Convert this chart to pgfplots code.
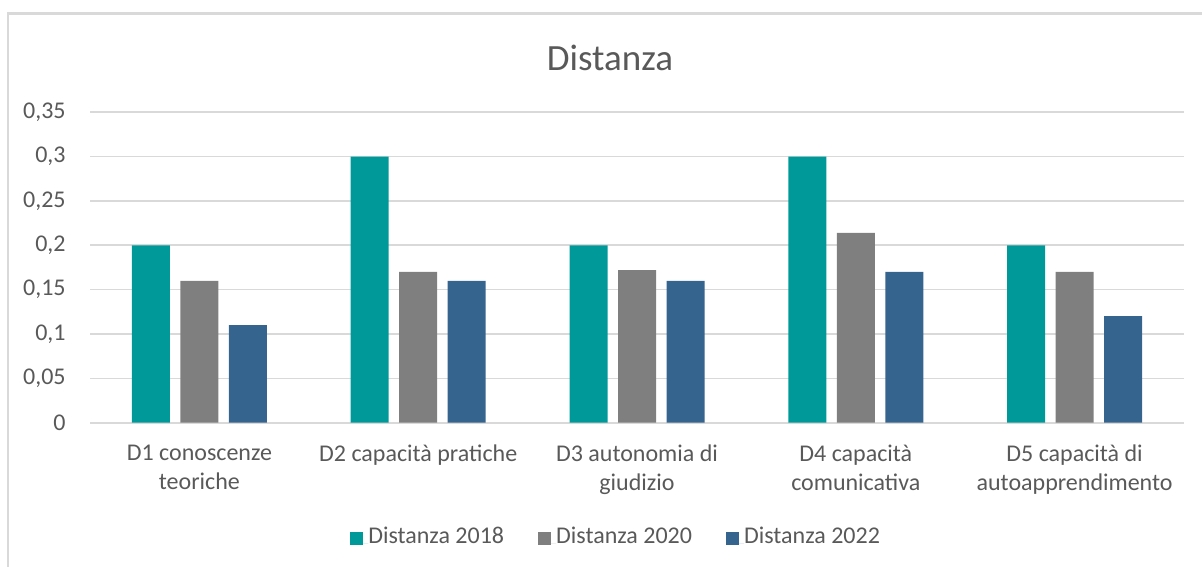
\documentclass[border=0pt]{standalone}
\usepackage{pgfplots}
\pgfplotsset{compat=1.18}
\usepackage{fontspec}
\setmainfont{Carlito}
\definecolor{cteal}{HTML}{009999}
\definecolor{cgray}{HTML}{7F7F7F}
\definecolor{cblue}{HTML}{35648E}
\definecolor{txt}{HTML}{595959}
\definecolor{gridc}{HTML}{D9D9D9}
\begin{document}
\begin{tikzpicture}
\path[use as bounding box] (0,0) rectangle (601bp,283.5bp);
\draw[gridc, line width=1.2bp] (4bp,0) -- (4bp,276.8bp) -- (601bp,276.8bp);
\node[text=txt, font=\fontsize{18.5bp}{22bp}\selectfont] at (305bp,254.5bp) {Distanza};
\begin{axis}[
  at={(45bp,72.15bp)}, anchor=south west,
  scale only axis, width=547bp, height=155.25bp,
  xmin=-0.5, xmax=4.5, ymin=0, ymax=0.35,
  axis line style={draw=none},
  xmajorgrids=false, ymajorgrids=true,
  y grid style={draw=gridc, line width=0.8bp},
  major tick length=0pt,
  xtick={0,1,2,3,4},
  xticklabels={{D1 conoscenze\\teoriche},{D2 capacità pratiche},{D3 autonomia di\\giudizio},{D4 capacità\\comunicativa},{D5 capacità di\\autoapprendimento}},
  ytick={0,0.05,0.1,0.15,0.2,0.25,0.3,0.35},
  yticklabels={0,{0,05},{0,1},{0,15},{0,2},{0,25},{0,3},{0,35}},
  ticklabel style={text=txt, font=\fontsize{12bp}{14.5bp}\selectfont},
  yticklabel style={anchor=east, inner sep=0pt, xshift=-12bp},
  xticklabel style={align=center, anchor=north, inner sep=0pt, yshift=-11bp},
  ybar, bar width=19bp,
  legend columns=3,
  legend style={at={(0.48,-0.368)}, anchor=center, draw=none, fill=none,
    font=\fontsize{12bp}{14.5bp}\selectfont, text=txt,
    nodes={inner sep=0pt, anchor=base west},
    /tikz/every even column/.append style={column sep=17bp}},
  legend image code/.code={\fill[#1] (0bp,-0.5bp) rectangle (6.5bp,6bp); \path (0,0) -- (9bp,0);},
]
\addplot[fill=cteal, draw=none, bar shift=-24.25bp] coordinates {(0,0.2) (1,0.3) (2,0.2) (3,0.3) (4,0.2)};
\addplot[fill=cgray, draw=none, bar shift=0bp] coordinates {(0,0.16) (1,0.17) (2,0.172) (3,0.214) (4,0.17)};
\addplot[fill=cblue, draw=none, bar shift=24.25bp] coordinates {(0,0.11) (1,0.16) (2,0.16) (3,0.17) (4,0.12)};
\legend{Distanza 2018, Distanza 2020, Distanza 2022}
\end{axis}
\end{tikzpicture}
\end{document}
